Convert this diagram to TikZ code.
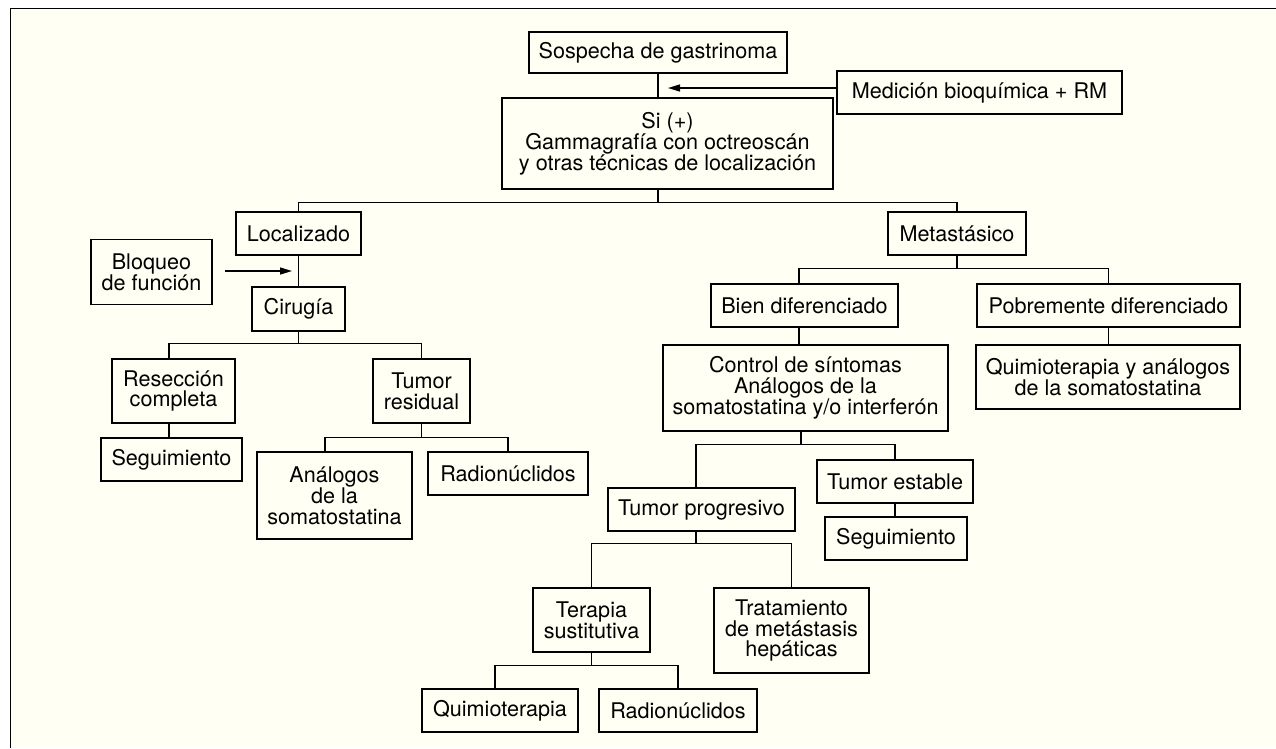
\documentclass[tikz,border=0pt]{standalone}
\usepackage{fontspec}
\setmainfont{TeX Gyre Heros}
\usetikzlibrary{arrows.meta}
\definecolor{crema}{RGB}{255,255,243}
\tikzset{
  caja/.style={draw, fill=crema, line width=1.4pt, align=center, inner sep=0pt,
    font=\fontsize{21.6}{20.8}\selectfont},
  rama/.style={line width=1.4pt},
  flecha/.style={line width=1.4pt, -{Triangle[length=12pt,width=7pt]}},
}
\begin{document}
\begin{tikzpicture}[x=1pt, y=-1pt]
\useasboundingbox (0,0) rectangle (1276,748);
\fill[white] (0,0) rectangle (1276,748);
\fill[crema] (10.5,8.5) rectangle (1276,748);
\draw[line width=1.6pt] (10.5,748) -- (10.5,8.5) -- (1276,8.5);

% tronco
\node[caja, minimum width=258, minimum height=41] (sospecha) at (658,52.5) {Sospecha de gastrinoma};
\node[caja, minimum width=331, minimum height=91] (si) at (667.5,143.5) {Si (+)\\Gammagrafía con octreoscán\\y otras técnicas de localización};
\node[caja, minimum width=285, minimum height=43] (medicion) at (979.5,92.5) {Medición bioquímica + RM};
\coordinate (mtip) at (668,88);

% rama localizada
\node[caja, minimum width=125, minimum height=43] (localizado) at (298.5,233.5) {Localizado};
\node[caja, minimum width=121, minimum height=65] (bloqueo) at (151.5,272) {Bloqueo\\de función};
\coordinate (btip) at (292,271);
\node[caja, minimum width=93, minimum height=44] (cirugia) at (298.5,309) {Cirugía};
\node[caja, minimum width=123, minimum height=64] (reseccion) at (173.5,391) {Resección\\completa};
\node[caja, minimum width=97, minimum height=64] (residual) at (421.5,391) {Tumor\\residual};
\node[caja, minimum width=141, minimum height=43] (seguimientoA) at (171.5,459.5) {Seguimiento};
\node[caja, minimum width=155, minimum height=87] (analogos) at (334.5,495.5) {Análogos\\de la\\somatostatina};
\node[caja, minimum width=160, minimum height=43] (radioA) at (508,473.5) {Radionúclidos};

% rama metastasica
\node[caja, minimum width=138, minimum height=43] (metastasico) at (957,233.5) {Metastásico};
\node[caja, minimum width=187, minimum height=43] (bien) at (804.5,305.5) {Bien diferenciado};
\node[caja, minimum width=263, minimum height=43] (pobre) at (1108.5,305.5) {Pobremente diferenciado};
\node[caja, minimum width=285, minimum height=86] (control) at (805.5,388) {Control de síntomas\\Análogos de la\\somatostatina y/o interferón};
\node[caja, minimum width=264, minimum height=64] (quimioanalogos) at (1108,377) {Quimioterapia y análogos\\de la somatostatina};
\node[caja, minimum width=156, minimum height=43] (estable) at (895,481.5) {Tumor estable};
\node[caja, minimum width=187, minimum height=43] (progresivo) at (701.5,509.5) {Tumor progresivo};
\node[caja, minimum width=142, minimum height=43] (seguimientoB) at (896,538.5) {Seguimiento};
\node[caja, minimum width=117, minimum height=64] (terapia) at (591.5,620) {Terapia\\sustitutiva};
\node[caja, minimum width=155, minimum height=85] (tratamiento) at (791.5,630.5) {Tratamiento\\de metástasis\\hepáticas};
\node[caja, minimum width=156, minimum height=43] (quimio) at (500,710.5) {Quimioterapia};
\node[caja, minimum width=158, minimum height=43] (radioB) at (678,710.5) {Radionúclidos};

% conectores
\draw[rama] (sospecha.south) -- (sospecha.south |- si.north);
\draw[flecha] (medicion.west |- mtip) -- (mtip);
\draw[rama] (sospecha.south |- si.south) -- ++(0,13) -| (localizado.north);
\draw[rama] (sospecha.south |- si.south) -- ++(0,13) -| (metastasico.north);
\draw[rama] (localizado.south) -- (cirugia.north);
\draw[flecha] ([xshift=12pt]bloqueo.east |- btip) -- (btip);
\draw[rama] (cirugia.south) -- ++(0,12) -| ([xshift=-4.5pt]reseccion.north);
\draw[rama] (cirugia.south) -- ++(0,12) -| (residual.north);
\draw[rama] ([xshift=-4.5pt]reseccion.south) -- ([xshift=-4.5pt]reseccion.south |- seguimientoA.north);
\draw[rama] (residual.south) -- ++(0,14) -| ([xshift=-9.5pt]analogos.north);
\draw[rama] (residual.south) -- ++(0,14) -| (radioA.north);
\draw[rama] (metastasico.south) -- ++(0,13) -| ([xshift=-5.5pt]bien.north);
\draw[rama] (metastasico.south) -- ++(0,13) -| (pobre.north);
\draw[rama] ([xshift=-5.5pt]bien.south) -- ([xshift=-5.5pt]bien.south |- control.north);
\draw[rama] (pobre.south) -- (pobre.south |- quimioanalogos.north);
\draw[rama] ([xshift=-4.5pt]control.south) -- ++(0,13) -| ([xshift=-5.5pt]progresivo.north);
\draw[rama] ([xshift=-4.5pt]control.south) -- ++(0,13) -| (estable.north);
\draw[rama] (estable.south) -- (estable.south |- seguimientoB.north);
\draw[rama] ([xshift=-5.5pt]progresivo.south) -- ++(0,12) -| (terapia.north);
\draw[rama] ([xshift=-5.5pt]progresivo.south) -- ++(0,12) -| (tratamiento.north);
\draw[rama] (terapia.south) -- ++(0,13) -| ([xshift=-5pt]quimio.north);
\draw[rama] (terapia.south) -- ++(0,13) -| (radioB.north);
\end{tikzpicture}
\end{document}
